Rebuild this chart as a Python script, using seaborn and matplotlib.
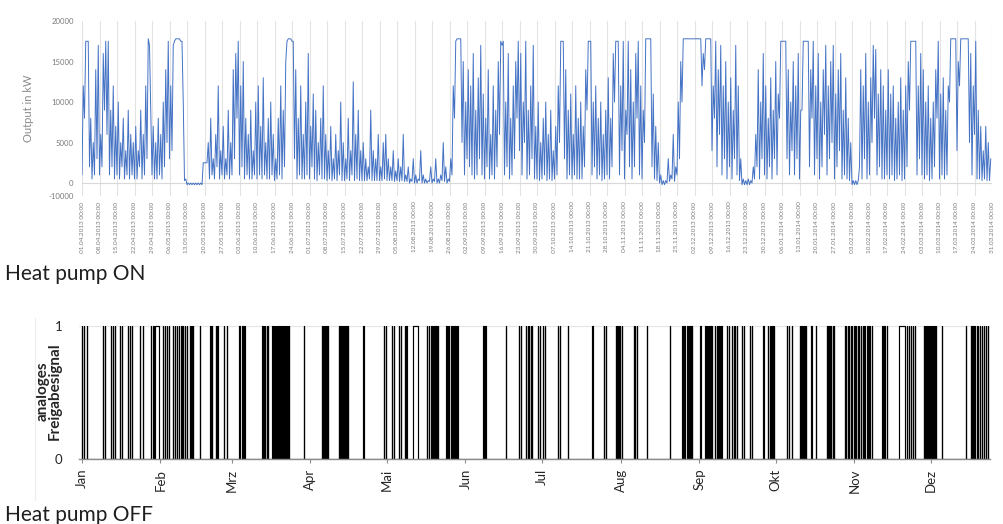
import numpy as np
import pandas as pd
import matplotlib
matplotlib.use("Agg")
import matplotlib.pyplot as plt
import seaborn as sns

sns.set_theme(style="white")
plt.rcParams['font.family'] = ['Lato', 'DejaVu Sans']

# ---------------------------------------------------------------------------
# Heat output 01.04.2013 - 31.03.2014: daily maximum and minimum (in 1000 kW)
# ---------------------------------------------------------------------------
output_start = pd.Timestamp("2013-04-01")
output_end = pd.Timestamp("2014-03-31")

daily_peak_k = (
    [12, 17.5, 17.5, 8, 5, 14, 17, 6, 16, 17.5]
    + [17.5, 9, 12, 7, 10, 5, 8, 4, 9, 6]
    + [5, 7, 4, 9, 6, 12, 17.8, 9, 7, 5]
    + [8, 6, 10, 14, 17.5, 12, 17, 17.8, 17.8, 17.5]
    + [10, 0.5, 0, 0, 0, 0, 0, 0, 2.5, 2.5]
    + [5, 8, 3, 6, 12, 4, 7, 3, 9, 5]
    + [14, 16, 17.5, 12, 15, 8, 6, 9, 4, 10]
    + [12, 7, 13, 5, 8, 10, 6, 3, 8, 12]
    + [9, 15, 17.8, 17.8, 17.5, 14, 8, 12, 6, 10]
    + [16, 7, 11, 9, 5, 8, 12, 6, 4, 7]
    + [3, 6, 4, 10, 5, 3, 8, 4, 12.5, 6]
    + [9, 4, 5, 3, 2, 9, 4, 3, 6, 2]
    + [5, 6, 3, 2, 4, 1.5, 3, 2, 6, 1]
    + [2, 0.5, 3, 1, 0.5, 4, 1, 0.5, 0.3, 2]
    + [0.5, 3, 0.5, 1, 5, 2, 0.5, 3, 12, 17.5]
    + [17.8, 17.8, 15, 10, 14, 12, 16, 9, 13, 17]
    + [11, 8, 14, 6, 12, 9, 15, 17.5, 17.5, 10]
    + [16, 8, 12, 15, 17.5, 16, 10, 17.5, 9, 12]
    + [17, 7, 10, 5, 8, 10, 6, 9, 4, 7]
    + [12, 17.5, 17.5, 14, 9, 11, 6, 12, 8, 10]
    + [7, 14, 17.5, 17.5, 10, 12, 8, 10, 6, 9]
    + [13, 8, 16, 17.5, 17.5, 12, 17.5, 9, 17.5, 14]
    + [10, 16, 17.5, 12, 9, 17.8, 17.8, 17.8, 11, 7]
    + [5, 1, 0.3, 0.3, 3, 1, 6, 2, 10, 15]
    + [17.8, 17.8, 17.8, 17.8, 17.8, 17.8, 17.8, 17.8, 16, 17.8]
    + [17.8, 17.8, 12, 17.5, 14, 17, 12, 15, 10, 13]
    + [9, 17, 12, 3, 0.5, 0.3, 0.5, 0.3, 2, 6]
    + [14, 10, 16, 12, 8, 13, 9, 15, 11, 17.5]
    + [17.5, 17.5, 14, 10, 15, 12, 16, 9, 17.5, 17.5]
    + [17.5, 14, 17.5, 12, 16, 10, 14, 17, 12, 15]
    + [17, 11, 14, 16, 9, 13, 8, 5, 0.3, 0.3]
    + [0.3, 14, 12, 16, 10, 13, 17, 16.5, 11, 14]
    + [12, 9, 14, 11, 12, 8, 10, 13, 9, 12]
    + [15, 17.5, 17.5, 17.5, 12, 16, 14, 10, 12, 8]
    + [10, 14, 17.5, 11, 13, 9, 12, 17.8, 17.8, 17.8]
    + [15, 17.8, 17.8, 17.8, 17.8, 16, 12, 17.5, 9, 7, 4, 7, 5, 3]
)

daily_low_k = (
    [1, 8, 17.5, 2, 0.5, 1, 3, 1, 2, 9]
    + [6, 1, 2, 0.5, 1, 0.5, 2, 0.5, 1, 0.5]
    + [1, 0.5, 0.5, 2, 0.5, 1, 3, 17, 1, 0.5]
    + [0.5, 1, 0.5, 2, 5, 3, 4, 17.5, 17.8, 17.8]
    + [17.5, 0.3, -0.2, -0.2, -0.2, -0.2, -0.2, -0.2, -0.2, 2.5]
    + [2.5, 0.5, 1, 0.5, 2, 0.5, 1, 0.5, 1, 0.5]
    + [1, 3, 8, 1, 2, 0.5, 1, 0.5, 0.5, 1]
    + [0.5, 1, 0.5, 1, 0.5, 0.5, 1, 0.3, 0.5, 1]
    + [0.5, 2, 17.5, 17.8, 17.5, 3, 0.5, 1, 0.5, 0.5]
    + [1, 0.5, 2, 0.5, 0.3, 1, 0.5, 0.5, 0.3, 0.5]
    + [0.3, 0.5, 0.3, 1, 0.3, 0.3, 0.5, 0.3, 1, 0.3]
    + [0.5, 0.3, 0.3, 0.3, 0.3, 0.5, 0.3, 0.3, 0.3, 0.3]
    + [0.3, 0.5, 0.3, 0.3, 0.3, 0.2, 0.3, 0.2, 0.3, 0.2]
    + [0.2, 0, 0.2, 0, 0, 0.3, 0, 0, 0, 0.2]
    + [0, 0.2, 0, 0, 0.3, 0.2, 0, 0.2, 1, 8]
    + [17.8, 17.8, 5, 1, 3, 2, 1, 0.5, 1, 3]
    + [1, 0.5, 2, 0.5, 1, 0.5, 2, 6, 17, 1]
    + [2, 0.5, 1, 3, 8, 4, 1, 5, 0.5, 1]
    + [3, 0.5, 0.5, 0.3, 0.5, 1, 0.3, 0.5, 0.3, 0.5]
    + [1, 5, 17.5, 3, 0.5, 1, 0.5, 1, 0.5, 0.5]
    + [0.5, 2, 9, 17.5, 1, 2, 0.5, 1, 0.3, 0.5]
    + [1, 0.5, 2, 10, 17.5, 1, 4, 0.5, 6, 2]
    + [0.5, 2, 8, 1, 0.5, 5, 17.8, 17.8, 2, 0.5]
    + [0.3, 0, -0.2, -0.2, 0, 0.2, 0.5, 0.2, 1, 3]
    + [10, 17.8, 17.8, 17.8, 17.8, 17.8, 17.8, 17.8, 12, 14]
    + [17.8, 17.8, 4, 8, 2, 6, 1, 3, 0.5, 2]
    + [0.5, 3, 1, 0.3, -0.2, -0.2, -0.2, -0.2, 0, 0.5]
    + [2, 0.5, 3, 1, 0.5, 2, 0.5, 3, 1, 8]
    + [17.5, 17.5, 3, 1, 4, 1, 3, 0.5, 9, 17.5]
    + [17.5, 2, 8, 1, 3, 0.5, 2, 6, 1, 3]
    + [5, 0.5, 2, 4, 0.5, 1, 0.5, 0.3, -0.2, -0.2]
    + [-0.2, 2, 0.5, 3, 0.5, 1, 5, 8, 1, 2]
    + [0.5, 0.5, 1, 0.5, 1, 0.3, 0.5, 1, 0.3, 0.5]
    + [2, 9, 17.5, 17.5, 1, 3, 1, 0.5, 1, 0.3]
    + [0.5, 2, 8, 0.5, 1, 0.5, 1, 10, 17.8, 17.8]
    + [4, 12, 17.8, 17.8, 17.8, 5, 1, 6, 0.5, 0.5, 0.3, 0.5, 0.3, 0.3]
)

output_yticks = [0, 5000, 10000, 15000, 20000]

# ---------------------------------------------------------------------------
# Heat pump release signal over a calendar year (day of year)
# ---------------------------------------------------------------------------
pulse_days = [
    0.2, 1.0, 2.0, 8.4, 9.2, 11.5, 12.3, 13.1, 15.1, 15.9, 18.2, 19.0, 19.8,
    22.9, 24.1, 27.2, 28.2,
    31.9, 32.7, 33.5, 34.3, 35.8, 36.6, 37.4, 38.2, 39.2, 39.9, 40.7, 41.5,
    42.5, 43.0, 43.4, 43.9, 46.6, 50.7, 51.3, 52.7, 53.4, 56.0, 57.2,
    62.1, 63.2, 64.0, 71.1, 71.7, 72.2, 72.8, 73.4,
    75.0, 75.5, 76.0, 76.5, 76.9, 77.4, 77.9, 78.4, 78.9, 79.4, 79.9, 80.4,
    80.9, 81.4, 87.3, 94.6, 95.1, 95.7, 96.3, 96.9,
    101.2, 101.8, 102.4, 103.0, 103.6, 104.1, 104.7, 110.8,
    118.8, 119.6, 122.0, 122.7, 124.7, 125.5, 127.1, 127.8,
    135.7, 136.5, 137.6, 138.1, 138.6, 139.1, 139.6, 140.1,
    143.5, 144.0, 144.5, 145.5, 146.1, 146.6, 147.2, 147.8,
    158.0, 158.8, 166.8, 172.1, 172.9, 174.8, 175.4, 176.0, 176.6, 177.2,
    179.5, 180.3, 181.5, 182.3, 187.4, 188.1, 191.3, 200.9, 205.4, 206.1,
    210.1, 210.7, 211.2, 211.8, 212.4, 217.1, 217.7, 218.3, 222.4, 231.4,
    236.3, 237.1, 238.3, 238.8, 239.4, 240.0, 243.4,
    245.3, 245.8, 246.3, 246.8, 247.3, 247.8, 249.2, 249.8, 250.4, 251.0,
    251.6, 253.9, 254.7, 255.9, 256.5, 257.0, 257.6, 259.8, 260.6, 262.8,
    263.7, 268.2, 270.0, 270.6, 271.2, 271.7, 272.3, 277.4, 278.2, 279.5,
    282.5, 283.1, 283.7, 284.3, 284.8, 287.0, 288.9,
    293.1, 293.7, 294.2, 294.8, 295.4, 296.0,
    300.1, 300.7, 301.3, 301.9, 302.5, 303.1, 304.0, 304.6, 305.2, 305.8,
    306.4, 307.2, 307.9, 309.1, 309.9, 310.7, 315.0, 315.8, 316.6,
    324.6, 325.4, 326.2, 326.9, 327.7,
    331.4, 331.9, 332.4, 332.9, 333.4, 333.9, 334.4, 334.9, 335.4, 335.9,
    338.3, 347.7, 349.8, 350.4, 351.2, 352.0, 352.6, 353.3, 354.1, 354.9,
    355.7, 356.4,
]
pulse_length_days = 0.12
long_on_periods = {29.0: 1.6, 130.4: 2.1, 321.5: 2.3}   # start day: length in days

month_labels = ["Jan", "Feb", "Mrz", "Apr", "Mai", "Jun",
                "Jul", "Aug", "Sep", "Okt", "Nov", "Dez"]
month_start_days = [0, 31, 59, 90, 120, 151, 181, 212, 243, 273, 304, 334]
signal_last_day = 356.8

# ---------------------------------------------------------------------------
W, H = 1004, 524
fig = plt.figure(figsize=(W / 100, H / 100), dpi=100)
fig.patch.set_facecolor("white")

# ---- top: output time series ----------------------------------------------
ax1 = fig.add_axes([82 / W, 1 - 196 / H, 910 / W, 175 / H])
n_days = len(daily_peak_k)
day_offsets = np.arange(n_days)
t_low = output_start + pd.to_timedelta(day_offsets, unit="D")
t_peak = t_low + pd.Timedelta(hours=12)
times = np.empty(2 * n_days, dtype="datetime64[ns]")
times[0::2] = t_low.values
times[1::2] = t_peak.values
values = np.empty(2 * n_days)
values[0::2] = np.array(daily_low_k) * 1000
values[1::2] = np.array(daily_peak_k) * 1000
series = pd.DataFrame({"time": times, "kw": values})

week_ticks = pd.date_range(output_start, output_end, freq="7D")
for t in week_ticks:
    ax1.axvline(t, color="#e3e3e3", lw=0.8, zorder=0)
ax1.axhline(0, color="#d9d9d9", lw=0.8, zorder=0)

sns.lineplot(data=series, x="time", y="kw", ax=ax1, color="#4472C4",
             linewidth=0.7, estimator=None, sort=False)

ax1.set_xlim(output_start, output_end)
ax1.set_ylim(-1600, 20000)
ax1.set_yticks([-1600] + output_yticks)
ax1.set_yticklabels(["-10000"] + [str(v) for v in output_yticks])
ax1.set_xticks(week_ticks)
ax1.set_xticklabels([t.strftime("%d.%m.%Y %H:%M") for t in week_ticks],
                    rotation=90, fontsize=4.6, color="#7a7a7a")
ax1.tick_params(axis="y", labelsize=5.6, colors="#7a7a7a", length=0, pad=6)
ax1.tick_params(axis="x", length=0, pad=4)
ax1.set_xlabel("")
ax1.set_ylabel("Output in kW", fontsize=8, color="#8a8a8a", labelpad=10)
for s in ax1.spines.values():
    s.set_visible(False)

# ---- bottom: release signal -------------------------------------------------
ax2 = fig.add_axes([79 / W, 1 - 459 / H, 911 / W, 136 / H])
intervals = [(d, d + pulse_length_days) for d in pulse_days]
intervals += [(s, s + L) for s, L in long_on_periods.items()]
intervals.sort()
xs, ys = [0.0], [0.0]
for s, e in intervals:
    xs += [s, s, e, e]
    ys += [0, 1, 1, 0]
xs.append(signal_last_day)
ys.append(0)
signal = pd.DataFrame({"day": xs, "on": ys})

ax2.axhline(1, color="#e6e6e6", lw=0.8, zorder=0)
sns.lineplot(data=signal, x="day", y="on", ax=ax2, color="black",
             linewidth=0.85, estimator=None, sort=False)
ax2.set_xlim(-1, signal_last_day + 0.5)
ax2.set_ylim(0, 136 / 133)
ax2.set_yticks([0, 1])
ax2.set_yticklabels(["0", "1"])
ax2.set_xticks(month_start_days)
ax2.set_xticklabels(month_labels, rotation=90, fontsize=9.5, color="#262626")
ax2.tick_params(axis="x", length=3, width=0.8, color="#8c8c8c", pad=4,
                direction="out", bottom=True)
ax2.tick_params(axis="y", length=0, labelsize=9.5, labelcolor="#262626", pad=12)
ax2.set_xlabel("")
ax2.set_ylabel("analoges\nFreigabesignal", fontsize=11, fontweight="bold",
               color="#262626", linespacing=0.85)
ax2.yaxis.set_label_coords(-0.019, 0.5)
for name, s in ax2.spines.items():
    s.set_visible(name == "bottom")
ax2.spines["bottom"].set_color("#8c8c8c")
ax2.spines["bottom"].set_linewidth(1.0)

# frame line of the lower chart
fig.add_artist(plt.Line2D([35 / W, 35 / W], [1 - 318 / H, 1 - 500 / H],
                          color="#ececec", lw=0.8))

# ---- captions ---------------------------------------------------------------
fig.text(5 / W, 1 - 280 / H, "Heat pump ON", fontsize=15, color="#1f1f1f",
         ha="left", va="baseline")
fig.text(5 / W, 1 - 521 / H, "Heat pump OFF", fontsize=15, color="#1f1f1f",
         ha="left", va="baseline")

fig.savefig("out.png", dpi=100, facecolor="white")
